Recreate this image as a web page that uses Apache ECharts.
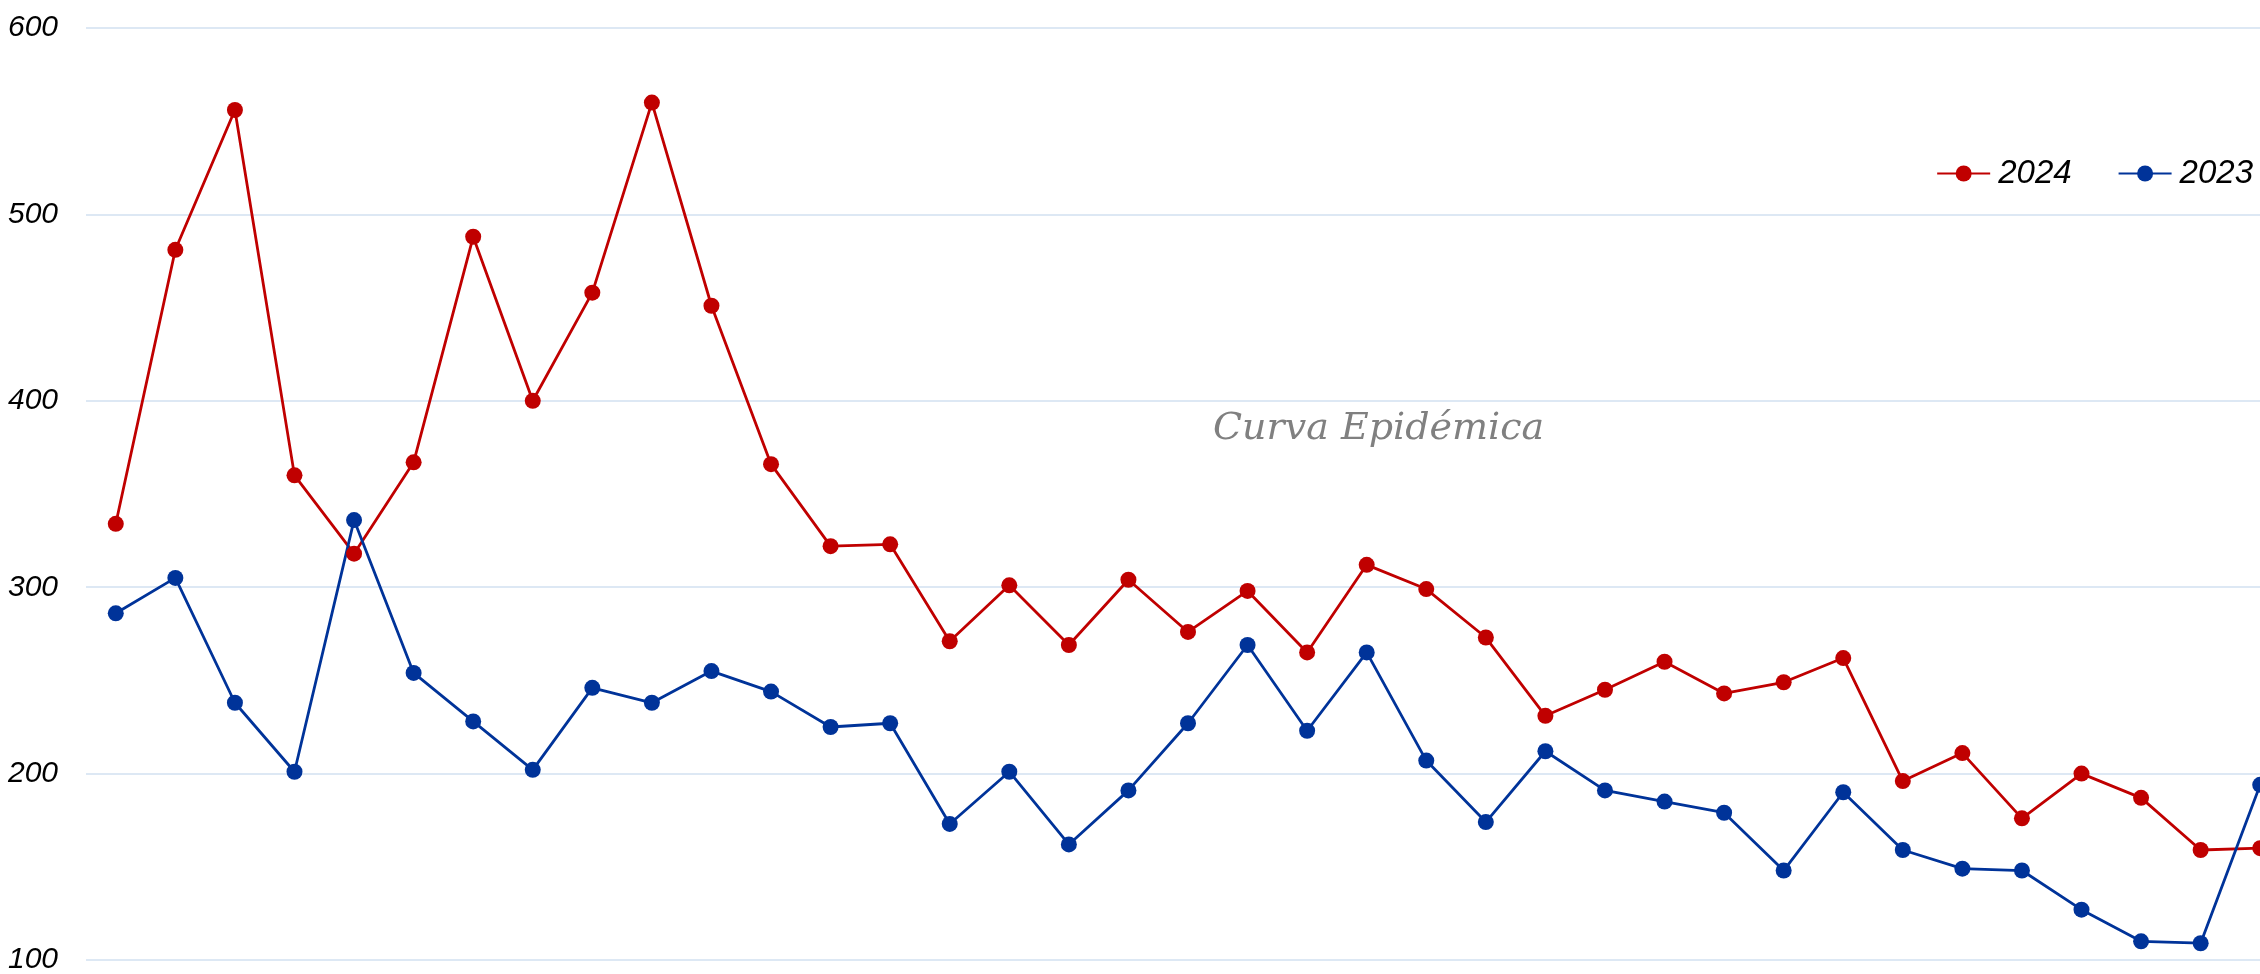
<!DOCTYPE html>
<html>
<head>
<meta charset="utf-8">
<script src="https://cdn.jsdelivr.net/npm/echarts@6/dist/echarts.min.js"></script>
<style>html,body{margin:0;padding:0;background:#fff}#c{width:2260px;height:974px}</style>
</head>
<body>
<div id="c"></div>
<script>
const weeks = Array.from({length: 37}, (_, i) => String(i + 1));
const series2024 = [334,481,556,360,318,367,488,400,458,560,451,366,322,323,271,301,269,304,276,298,265,312,299,273,231,245,260,243,249,262,196,211,176,200,187,159,160];
const series2023 = [286,305,238,201,336,254,228,202,246,238,255,244,225,227,173,201,162,191,227,269,223,265,207,174,212,191,185,179,148,190,159,149,148,127,110,109,194];
const yTicks = [100, 200, 300, 400, 500, 600];
const titleText = 'Curva Epidémica';

const chart = echarts.init(document.getElementById('c'));
const narrow = '"Liberation Sans Narrow", "Arial Narrow", "Liberation Sans", sans-serif';
chart.setOption({
  animation: false,
  backgroundColor: '#ffffff',
  grid: {left: 86, width: 2204, top: 28, bottom: 14, containLabel: false, outerBoundsMode: 'none'},
  xAxis: {
    type: 'category', data: weeks, boundaryGap: true,
    axisLine: {show: false}, axisTick: {show: false}, axisLabel: {show: false}, splitLine: {show: false}
  },
  yAxis: {
    type: 'value', min: yTicks[0], max: yTicks[yTicks.length - 1], interval: 100,
    axisLine: {show: false}, axisTick: {show: false},
    axisLabel: {margin: 28, color: '#000', fontStyle: 'italic', fontSize: 30, fontFamily: narrow},
    splitLine: {lineStyle: {color: '#dde8f4', width: 2}}
  },
  legend: {
    right: 2, top: 152, itemWidth: 53, itemHeight: 20, itemGap: 46,
    textStyle: {color: '#000', fontStyle: 'italic', fontSize: 33, fontFamily: narrow, padding: [0,0,0,3]},
    data: ['2024', '2023']
  },
  graphic: [{
    type: 'text', left: 1213, top: 410,
    style: {text: titleText, fill: '#808080', fontSize: 38, fontStyle: 'italic', fontFamily: '"DejaVu Serif", serif'}
  }],
  series: [
    {name: '2024', type: 'line', data: series2024, symbol: 'circle', symbolSize: 16,
     lineStyle: {color: '#c00000', width: 2.8}, itemStyle: {color: '#c00000'}},
    {name: '2023', type: 'line', data: series2023, symbol: 'circle', symbolSize: 16,
     lineStyle: {color: '#003399', width: 2.8}, itemStyle: {color: '#003399'}}
  ]
});
</script>
</body>
</html>
